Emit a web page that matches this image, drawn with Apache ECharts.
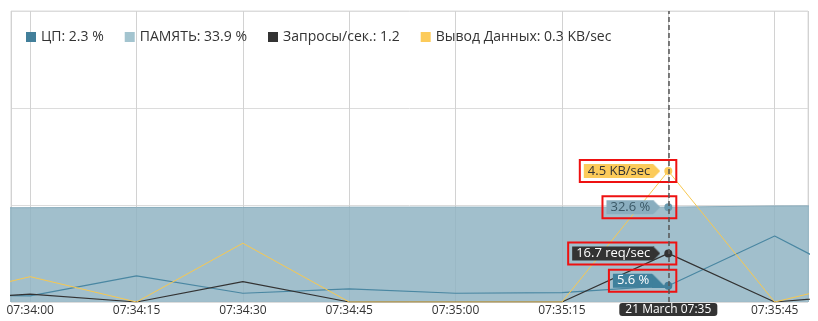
<!DOCTYPE html>
<html><head><meta charset="utf-8">
<script src="https://cdn.jsdelivr.net/npm/echarts@6/dist/echarts.min.js"></script>
<style>html,body{margin:0;padding:0;background:#fff}#c{width:818px;height:321px}</style>
</head><body><div id="c"></div>
<script>
// ---- data ----
const seriesNames = ['ЦП', 'ПАМЯТЬ', 'Запросы/сек.', 'Вывод Данных'];
const legendValues = ['2.3 %', '33.9 %', '1.2', '0.3 KB/sec'];
const units = [' %', ' %', ' req/sec', ' KB/sec'];
const timeLabels = ['07:33:45','07:34:00','07:34:15','07:34:30','07:34:45','07:35:00','07:35:15','07:35:30','07:35:45','07:36:00'];
const cpu      = [2.7, 2.1, 9.0, 3.0, 4.5, 3.0, 3.2, 5.6, 22.7, 3.8];
const memory   = [32.3, 32.4, 32.5, 32.5, 32.6, 32.6, 32.6, 32.6, 33.0, 33.1];
const requests = [0.5, 2.7, 0, 7.0, 0, 0, 0, 16.7, 0, 3.0];
const output   = [0, 0.87, 0, 2.02, 0, 0, 0, 4.5, 0, 0.88];
const viewStart = '07:33:57.3';
const viewEnd = '07:35:49.7';
const hoverTime = '07:35:30';
const hoverLabel = '21 March 07:35';

function t(s) {
  const p = s.split(':');
  const sec = parseFloat(p[2]);
  return new Date(2016, 2, 21, +p[0], +p[1], Math.floor(sec), Math.round((sec % 1) * 1000)).getTime();
}
function pad(n) { return (n < 10 ? '0' : '') + n; }
function fmt(v) { const d = new Date(v); return pad(d.getHours()) + ':' + pad(d.getMinutes()) + ':' + pad(d.getSeconds()); }
function arrowImg(color, w, h, down) {
  const c = document.createElement('canvas'); c.width = w; c.height = h;
  const g = c.getContext('2d'); g.fillStyle = color;
  g.beginPath();
  if (down) { g.moveTo(0, 0); g.lineTo(w, h); g.lineTo(0, h); }
  else { g.moveTo(0, 0); g.lineTo(w, h / 2); g.lineTo(0, h); }
  g.closePath(); g.fill();
  return c;
}
const hoverIdx = timeLabels.indexOf(hoverTime);
const FONT = 'Open Sans';

function mkData(vals, unit, dotColor, bg, fg, dy, down) {
  const aw = down ? 14 : 7;
  return timeLabels.map((s, i) => {
    if (i !== hoverIdx) return [t(s), vals[i]];
    return {
      value: [t(s), vals[i]],
      symbol: 'circle', symbolSize: 8,
      itemStyle: { color: dotColor, borderWidth: 0 },
      label: {
        show: true, position: 'left', distance: -12, offset: [0, dy],
        borderColor: '#ee1111', borderWidth: 2, padding: [4, down ? 10 : 16, 4, 4],
        formatter: (p) => '{t|' + p.value[1] + unit + '}{a|}',
        rich: {
          t: { backgroundColor: bg, color: fg, fontSize: 13, fontFamily: FONT, padding: [0, 3, 0, 4], height: 14, lineHeight: 14 },
          a: { backgroundColor: { image: arrowImg(bg, aw, 14, down) }, width: aw, height: 14 }
        }
      }
    };
  });
}

const chart = echarts.init(document.getElementById('c'), null, { renderer: 'canvas' });
chart.setOption({
  animation: false,
  grid: { left: 11, right: 10, top: 11, bottom: 19, show: true, borderColor: '#dcdcdc', borderWidth: 1, backgroundColor: 'transparent' },
  legend: {
    left: 26, top: 30, padding: 0, itemGap: 21, itemWidth: 10, itemHeight: 10, icon: 'rect',
    data: seriesNames,
    formatter: (n) => n + ': ' + legendValues[seriesNames.indexOf(n)],
    textStyle: { fontSize: 14, color: '#333', fontFamily: FONT },
    itemStyle: { borderWidth: 0 }
  },
  xAxis: {
    type: 'time', min: t(viewStart), max: t(viewEnd), splitNumber: 6,
    axisLine: { show: false }, axisTick: { show: false },
    axisLabel: { formatter: (v) => fmt(v), color: '#333', fontSize: 12, fontFamily: FONT, margin: 3, showMinLabel: false, showMaxLabel: false },
    splitLine: { show: true, lineStyle: { color: '#d2d2d2', width: 1 } },
    axisPointer: {
      show: true, type: 'line', value: t(hoverTime), status: 'show', snap: false, triggerTooltip: false,
      lineStyle: { color: '#555', width: 1.5, type: [5, 3] },
      label: { show: true, formatter: () => hoverLabel, backgroundColor: '#333', color: '#fff', fontSize: 12, fontFamily: FONT, padding: [1, 6, 0, 6], borderRadius: 3, margin: 1 }
    }
  },
  yAxis: [
    { type: 'value', min: 0, max: 100, interval: 100 / 3, axisLabel: { show: false }, axisLine: { show: false }, axisTick: { show: false },
      splitLine: { show: true, lineStyle: { color: '#dcdcdc' } } },
    { type: 'value', min: 0, max: 10, interval: 10 / 3, axisLabel: { show: false }, axisLine: { show: false }, axisTick: { show: false },
      splitLine: { show: false } }
  ],
  series: [
    { name: seriesNames[1], type: 'line', yAxisIndex: 0, symbol: 'none', showSymbol: true,
      itemStyle: { color: '#a3c4cf' }, lineStyle: { color: '#88abbb', width: 1 },
      areaStyle: { color: 'rgba(144,180,195,0.85)', opacity: 1 },
      emphasis: { disabled: true },
      data: mkData(memory, units[1], '#6a9bb0', '#8aaebf', '#3a5866', 0, false) },
    { name: seriesNames[0], type: 'line', yAxisIndex: 0, symbol: 'none', showSymbol: true,
      itemStyle: { color: '#427f9a' }, lineStyle: { color: '#4a87a2', width: 1.2 },
      emphasis: { disabled: true },
      data: mkData(cpu, units[0], '#427f9a', '#3f809c', '#ffffff', -5, true) },
    { name: seriesNames[2], type: 'line', yAxisIndex: 0, symbol: 'none', showSymbol: true,
      itemStyle: { color: '#333333' }, lineStyle: { color: '#333', width: 1.2 },
      emphasis: { disabled: true },
      data: mkData(requests, units[2], '#333333', '#333333', '#ffffff', 0, false) },
    { name: seriesNames[3], type: 'line', yAxisIndex: 1, symbol: 'none', showSymbol: true,
      itemStyle: { color: '#fccb5a' }, lineStyle: { color: '#f7c850', width: 1 },
      emphasis: { disabled: true },
      data: mkData(output, units[3], '#fccb5a', '#fccb5a', '#333333', 0, false) }
  ]
});
</script></body></html>
